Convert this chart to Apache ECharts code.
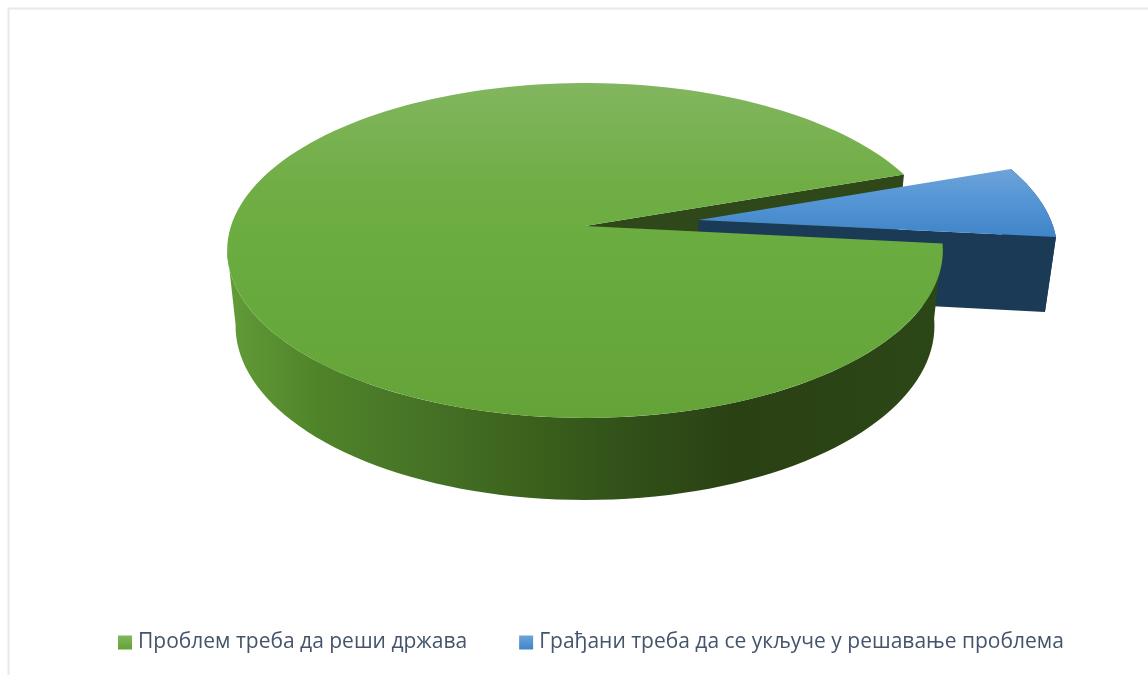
<!DOCTYPE html>
<html>
<head>
<meta charset="utf-8">
<style>
  html, body { margin: 0; padding: 0; background: #fff; }
  #chart { width: 1148px; height: 675px; }
</style>
<script src="https://cdn.jsdelivr.net/npm/echarts@6/dist/echarts.min.js"></script>
</head>
<body>
<div id="chart"></div>
<script>
const categories = ['Проблем треба да реши држава', 'Грађани треба да се укључе у решавање проблема'];
const values = [93, 7];

const total = values.reduce((a, b) => a + b, 0);
const firstAngle = 6;       // degrees, clockwise from 3 o'clock
const explode = 0.325;      // second slice pull-out, in radii
const wallEnd = 172;        // where the side wall meets the left silhouette

// the two discs of the pie, as seen through the camera
const topPlane = { cx: 585, r: 354, a: 130.9, b: 226, k: -0.146 };
const bottomPlane = { cx: 585, r: 345.7, a: 126.6, b: 300.4, k: -0.146 };

function project(plane, u, v) {
  let w = 1 + plane.k * v;
  return [plane.cx + plane.r * u / w, (plane.a * v + plane.b) / w];
}

function arc(plane, center, from, to) {
  let pts = [];
  let steps = Math.max(2, Math.ceil(Math.abs(to - from) / 2));
  for (let i = 0; i <= steps; i++) {
    let t = (from + (to - from) * i / steps) * Math.PI / 180;
    pts.push(project(plane, center[0] + Math.cos(t), center[1] + Math.sin(t)));
  }
  return pts;
}

function grad(x0, y0, x1, y1, stops) {
  return new echarts.graphic.LinearGradient(x0, y0, x1, y1,
    stops.map(s => ({ offset: s[0], color: s[1] })));
}

function polygon(points, fill, z2) {
  return { type: 'polygon', z2: z2, shape: { points: points }, style: { fill: fill } };
}

function sliceRange(index) {
  let start = firstAngle;
  for (let i = 0; i < index; i++) start += values[i] / total * 360;
  return [start, start + values[index] / total * 360];
}

function renderGreen(params, api) {
  let [from, to] = sliceRange(0);
  let c = [0, 0];
  let topArc = arc(topPlane, c, from, to);
  let apexTop = project(topPlane, 0, 0);
  let apexBottom = project(bottomPlane, 0, 0);
  let endBottom = project(bottomPlane, Math.cos(to * Math.PI / 180), Math.sin(to * Math.PI / 180));
  let wallTop = arc(topPlane, c, from, wallEnd);
  let wallBottom = arc(bottomPlane, c, from, wallEnd).reverse();
  return {
    type: 'group',
    children: [
      polygon([apexTop, topArc[topArc.length - 1], endBottom, apexBottom], '#2e481a', 1),
      polygon(wallTop.concat(wallBottom), grad(0, 0, 1, 0, [
        [0, '#629c38'], [0.13, '#4f8329'], [0.27, '#467326'], [0.41, '#3c631d'],
        [0.53, '#33541a'], [0.71, '#2a4113'], [1, '#2c4717']
      ]), 10),
      polygon([apexTop].concat(topArc), grad(0, 0, 0, 1, [
        [0, '#82b65f'], [0.3, '#70ae45'], [0.5, '#6aac40'], [1, '#64a338']
      ]), 11)
    ]
  };
}

function renderBlue(params, api) {
  let [from, to] = sliceRange(1);
  let mid = (from + to) / 2 * Math.PI / 180;
  let c = [explode * Math.cos(mid), explode * Math.sin(mid)];
  let topArc = arc(topPlane, c, from, to);
  let bottomArc = arc(bottomPlane, c, from, to);
  let apexTop = project(topPlane, c[0], c[1]);
  let apexBottom = project(bottomPlane, c[0], c[1]);
  let edgeAngle = to * Math.PI / 180;
  let tipTop = project(topPlane, c[0] + Math.cos(edgeAngle), c[1] + Math.sin(edgeAngle));
  let tipBottom = project(bottomPlane, c[0] + Math.cos(edgeAngle), c[1] + Math.sin(edgeAngle));
  return {
    type: 'group',
    children: [
      polygon(topArc.concat(bottomArc.slice().reverse()), '#1b3a56', 5),
      polygon([apexTop, tipTop, tipBottom, apexBottom], '#1b3a56', 6),
      polygon([apexTop].concat(topArc), grad(0, 0, 0, 1, [
        [0, '#6fa3d9'], [0.4, '#5797d6'], [1, '#3f85c9']
      ]), 7)
    ]
  };
}

let chart = echarts.init(document.getElementById('chart'));
chart.setOption({
  backgroundColor: '#fff',
  animation: false,
  legend: {
    left: 113,
    top: 627,
    itemWidth: 14,
    itemHeight: 14,
    itemGap: 52,
    icon: 'rect',
    data: categories,
    textStyle: {
      color: '#44546a',
      fontFamily: 'Open Sans',
      fontSize: 21,
      padding: [0, 0, 0, 1]
    }
  },
  graphic: [{
    type: 'rect',
    silent: true,
    shape: { x: 8.5, y: 8.5, width: 1300, height: 800 },
    style: { fill: 'none', stroke: '#e6e8ee', lineWidth: 2 }
  }],
  series: [
    {
      name: categories[0],
      type: 'custom',
      coordinateSystem: 'none',
      renderItem: renderGreen,
      itemStyle: { color: grad(0, 0, 0, 1, [[0, '#82b65f'], [1, '#62a335']]) },
      data: [values[0]]
    },
    {
      name: categories[1],
      type: 'custom',
      coordinateSystem: 'none',
      renderItem: renderBlue,
      itemStyle: { color: grad(0, 0, 0, 1, [[0, '#6fa3d9'], [1, '#3f85c9']]) },
      data: [values[1]]
    }
  ]
});
</script>
</body>
</html>
